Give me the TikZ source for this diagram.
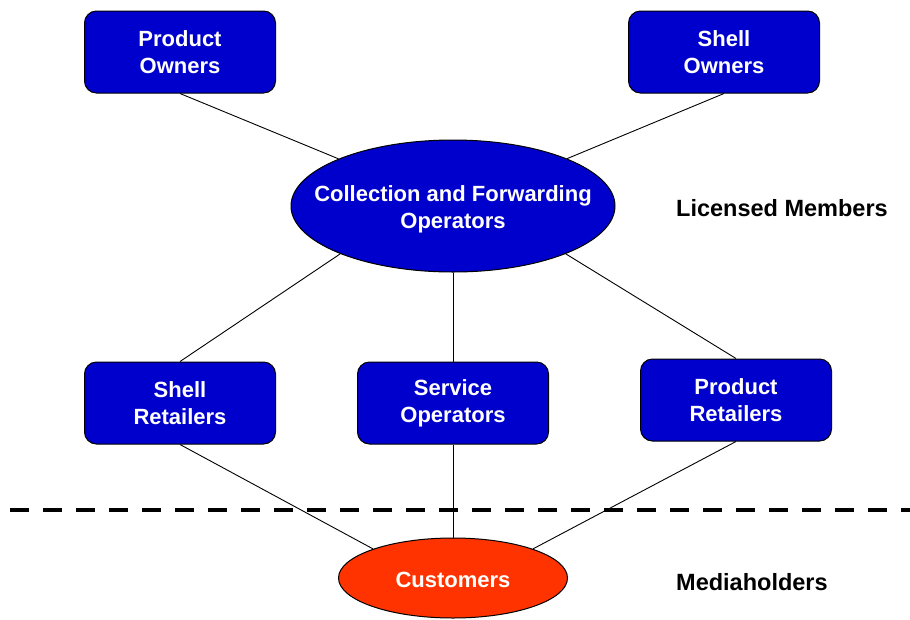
\documentclass[tikz,border=0pt]{standalone}
\usepackage{fontspec}
\setmainfont{Liberation Sans}
\usetikzlibrary{shapes.geometric}
\definecolor{boxblue}{HTML}{0000CC}
\definecolor{custred}{HTML}{FF3300}
\begin{document}
\begin{tikzpicture}[x=1pt,y=-1pt,
  nodetext/.style={text=white,font=\bfseries\fontsize{22}{27}\selectfont,align=center,inner sep=0pt},
  bluebox/.style={draw=black,line width=1pt,fill=boxblue,rounded corners=12pt,
    minimum width=191pt,minimum height=82pt,nodetext},
  blueell/.style={ellipse,draw=black,line width=1pt,fill=boxblue,minimum width=324pt,minimum height=132pt,inner sep=0pt},
  redell/.style={ellipse,draw=black,line width=1pt,fill=custred,minimum width=229pt,minimum height=80pt,inner sep=0pt},
  sidelabel/.style={font=\bfseries\fontsize{23.5}{28}\selectfont,text=black,anchor=west,inner sep=0pt},
  conn/.style={draw=black,line width=0.9pt}]
\useasboundingbox (0,0) rectangle (910,619);
\node[bluebox] (po) at (180,52) {Product\\Owners};
\node[bluebox] (so) at (724,52) {Shell\\Owners};
\node[blueell,label={[nodetext,yshift=-3pt]center:Collection and Forwarding\\Operators}] (cfo) at (453,206) {};
\node[bluebox] (sr) at (180,403) {Shell\\Retailers};
\node[bluebox] (sv) at (453,403) {\raisebox{-2pt}{Service}\\\raisebox{-2pt}{Operators}};
\node[bluebox] (pr) at (736,400) {\raisebox{-2pt}{Product}\\\raisebox{-2pt}{Retailers}};
\node[redell,label={[nodetext,yshift=-2pt]center:Customers}] (cu) at (453,578) {};
\node[sidelabel] (lm) at (676,208) {Licensed Members};
\node[sidelabel] (mh) at (676,582) {Mediaholders};
\coordinate (dl) at (10,510);
\coordinate (dr) at (910,510);
\draw[line width=4pt,dash pattern=on 19pt off 14pt] (dl) -- (dr);
\draw[conn] (po.south) -- (cfo);
\draw[conn] (so.south) -- (cfo);
\draw[conn] (sr.north) -- (cfo.203);
\draw[conn] (sv.north) -- (cfo);
\draw[conn] (pr.north) -- (cfo.337);
\draw[conn] (sr.south) -- (cu.160);
\draw[conn] (sv.south) -- (cu);
\draw[conn] (pr.south) -- (cu.20);
\end{tikzpicture}
\end{document}
